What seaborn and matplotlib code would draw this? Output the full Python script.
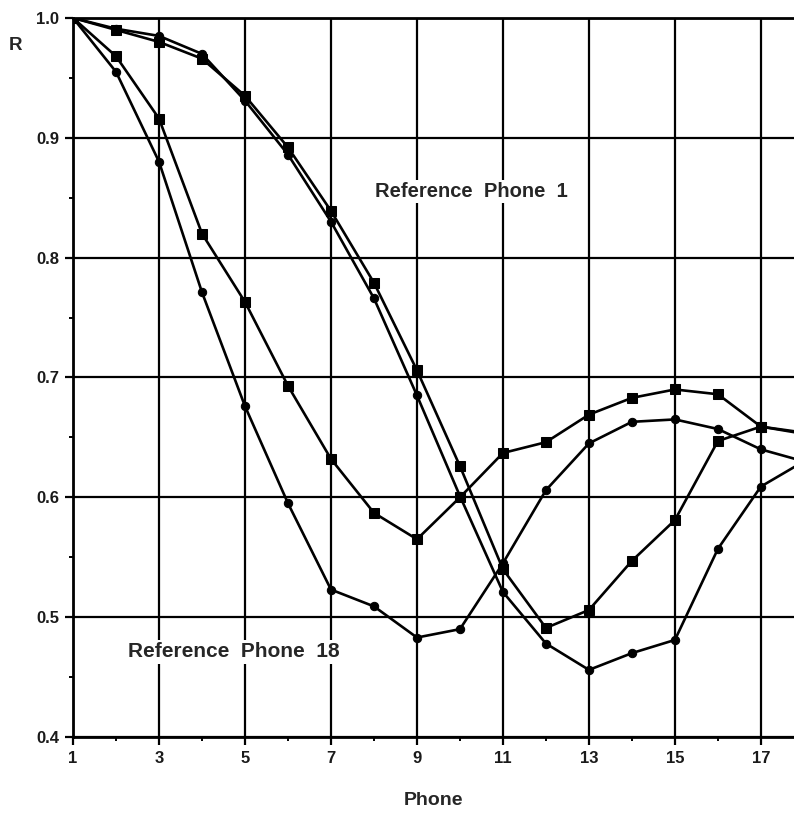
import matplotlib
matplotlib.use("Agg")
import matplotlib.pyplot as plt
from matplotlib.ticker import MultipleLocator, FixedLocator
import numpy as np
import pandas as pd
import seaborn as sns

# Correlation R of each phone with the reference phone
phones = list(range(1, 19))
ref1_squares = [1.0, 0.990, 0.980, 0.966, 0.935, 0.892, 0.839, 0.779, 0.706, 0.626,
                0.540, 0.491, 0.506, 0.547, 0.581, 0.647, 0.659, 0.653]
ref1_circles = [1.0, 0.991, 0.985, 0.970, 0.931, 0.886, 0.830, 0.766, 0.685, 0.601,
                0.521, 0.478, 0.456, 0.470, 0.481, 0.557, 0.609, 0.630]
ref18_squares = [1.0, 0.968, 0.916, 0.820, 0.763, 0.693, 0.632, 0.587, 0.565, 0.600,
                 0.637, 0.646, 0.669, 0.683, 0.690, 0.686, 0.659, 0.654]
ref18_circles = [1.0, 0.955, 0.880, 0.771, 0.676, 0.595, 0.523, 0.509, 0.483, 0.490,
                 0.545, 0.606, 0.645, 0.663, 0.665, 0.657, 0.640, 0.630]

x_ticks = [1, 3, 5, 7, 9, 11, 13, 15, 17]
y_ticks = [0.4, 0.5, 0.6, 0.7, 0.8, 0.9, 1.0]
y_tick_labels = ["0.4", "0.5", "0.6", "0.7", "0.8", "0.9", "1.0"]

sns.set_theme(style="white")
plt.rcParams["font.family"] = ["Liberation Sans", "DejaVu Sans"]

fig = plt.figure(figsize=(7.94, 8.16), dpi=100)
ax = fig.add_axes([0.092, 0.0968, 0.908, 0.8812])

series = [
    (ref1_squares, "s", 7.0),
    (ref1_circles, "o", 6.0),
    (ref18_squares, "s", 7.0),
    (ref18_circles, "o", 6.0),
]
for values, marker, msize in series:
    df = pd.DataFrame({"Phone": phones, "R": values})
    sns.lineplot(data=df, x="Phone", y="R", ax=ax, color="black", linewidth=1.9,
                 marker=marker, markersize=msize, markeredgecolor="black",
                 markerfacecolor="black", zorder=3, clip_on=True)

ax.set_xlim(1, 17.77)
ax.set_ylim(0.4, 1.0)

ax.xaxis.set_major_locator(FixedLocator(x_ticks))
ax.xaxis.set_minor_locator(FixedLocator([2, 4, 6, 8, 10, 12, 14, 16]))
ax.yaxis.set_major_locator(FixedLocator(y_ticks))
ax.yaxis.set_minor_locator(MultipleLocator(0.05))
ax.set_yticklabels(y_tick_labels)

ax.grid(True, which="major", color="black", linewidth=1.6, linestyle="-")
ax.set_axisbelow(True)

for side in ["left", "bottom", "top"]:
    ax.spines[side].set_color("black")
    ax.spines[side].set_linewidth(2.0)
ax.spines["right"].set_visible(False)

ax.tick_params(axis="both", which="major", direction="out", length=6, width=1.6,
               color="black", labelsize=12, pad=4, left=True, bottom=True)
ax.tick_params(axis="both", which="minor", direction="out", length=3, width=1.4,
               color="black", left=True, bottom=True)
for lbl in ax.get_xticklabels() + ax.get_yticklabels():
    lbl.set_fontweight("bold")
    lbl.set_color("#1a1a1a")

ax.set_xlabel("Phone", fontsize=14, fontweight="bold", labelpad=19)
ax.set_ylabel("")
fig.text(0.019, 0.944, "R", fontsize=13.5, fontweight="bold", ha="center", va="center")

box = dict(facecolor="white", edgecolor="none", pad=1.5)
ax.text(10.26, 0.855, "Reference  Phone  1", fontsize=14.5, fontweight="bold",
        ha="center", va="center", bbox=box, zorder=2)
ax.text(4.74, 0.471, "Reference  Phone  18", fontsize=15, fontweight="bold",
        ha="center", va="center", bbox=box, zorder=2)

fig.savefig("out.png", dpi=100)
